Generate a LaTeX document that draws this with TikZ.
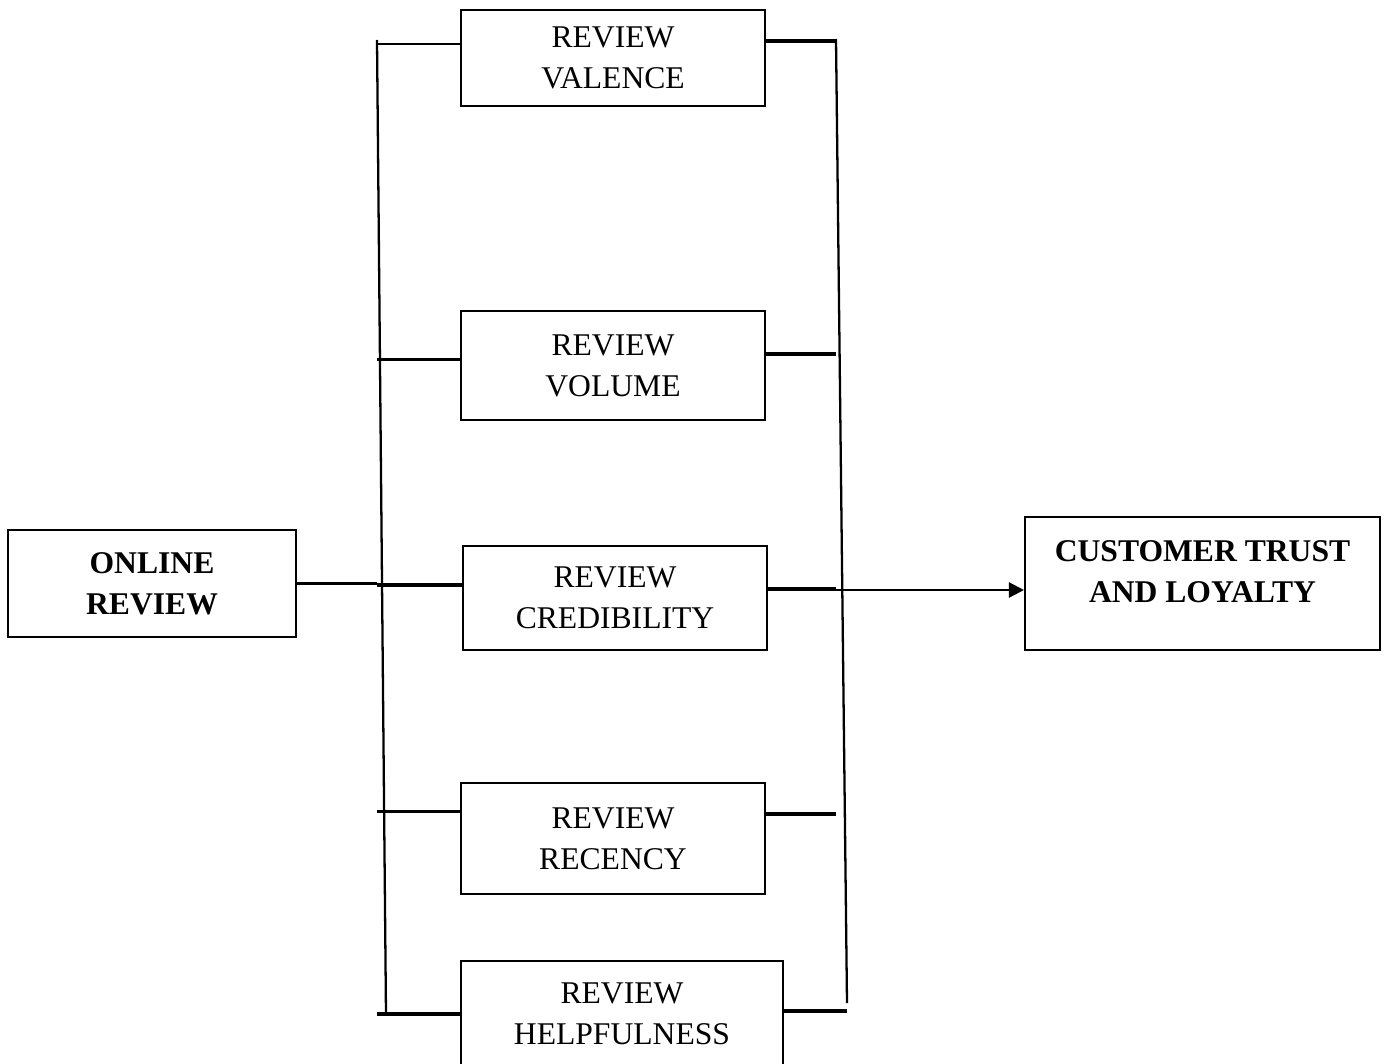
\documentclass[tikz,border=0pt]{standalone}
\usepackage{fontspec}
\setmainfont{Liberation Serif}
\usetikzlibrary{arrows.meta}

\begin{document}
\begin{tikzpicture}[x=0.02cm, y=-0.02cm, >={Triangle[length=0.3cm,width=0.3cm]},
      font=\fontsize{18}{23.3}\selectfont,
      box/.style={draw, line width=1.2pt, align=center, inner sep=0pt},
      revbox/.style={box, minimum width=6.08cm},
      mainbox/.style={box, font=\fontsize{18}{23.3}\selectfont\bfseries},
      link/.style={line width=1.3pt},
      heavylink/.style={line width=1.8pt}]
    \useasboundingbox (0,0) rectangle (1389,1064);
    % boxes
    \node[mainbox, minimum width=5.76cm, minimum height=2.14cm] (online) at (152,583.5) {ONLINE\\REVIEW};
    \node[revbox, minimum height=1.92cm] (valence) at (613,58) {REVIEW\\VALENCE};
    \node[revbox, minimum height=2.18cm] (volume) at (613,365.5) {REVIEW\\VOLUME};
    \node[revbox, minimum height=2.08cm] (credibility) at (615,598) {REVIEW\\CREDIBILITY};
    \node[revbox, minimum height=2.22cm] (recency) at (613,838.5) {REVIEW\\RECENCY};
    \node[revbox, minimum width=6.44cm, minimum height=2.12cm] (helpfulness) at (622,1014) {REVIEW\\HELPFULNESS};
    \node[mainbox, minimum width=7.1cm, minimum height=2.66cm,
      label={[font=\fontsize{18}{23.3}\selectfont\bfseries, align=center, yshift=0.24cm]center:{CUSTOMER TRUST\\AND LOYALTY}}] (trust) at (1202.5,583.5) {};
    % bus lines
    \coordinate (ltop) at (377,40);
    \coordinate (lbot) at (386,1015);
    \coordinate (rtop) at (836,39);
    \coordinate (rbot) at (847,1003);
    \draw[link] (ltop) -- (lbot);
    \draw[link] (rtop) -- (rbot);
    % left side
    \draw[link] (online.east) -- (online.east -| ltop);
    \draw[link] ([yshift=0.28cm]valence.west) -- ([yshift=0.28cm]valence.west -| ltop);
    \draw[link] ([yshift=0.12cm]volume.west) -- ([yshift=0.12cm]volume.west -| ltop);
    \draw[heavylink] ([yshift=0.26cm]credibility.west) -- ([yshift=0.26cm]credibility.west -| ltop);
    \draw[link] ([yshift=0.54cm]recency.west) -- ([yshift=0.54cm]recency.west -| ltop);
    \draw[heavylink] (helpfulness.west) -- (helpfulness.west -| ltop);
    % right side
    \draw[heavylink] ([yshift=0.34cm]valence.east) -- ([yshift=0.34cm]valence.east -| rtop);
    \draw[heavylink] ([yshift=0.23cm]volume.east) -- ([yshift=0.23cm]volume.east -| rtop);
    \draw[heavylink] ([yshift=0.18cm]credibility.east) -- ([yshift=0.18cm]credibility.east -| rtop);
    \draw[heavylink] ([yshift=0.49cm]recency.east) -- ([yshift=0.49cm]recency.east -| rtop);
    \draw[heavylink] ([yshift=0.06cm]helpfulness.east) -- ([yshift=0.06cm]helpfulness.east -| rbot);
    \draw[link, ->] ([yshift=-0.13cm]trust.west -| rtop) -- ([yshift=-0.13cm]trust.west);
\end{tikzpicture}
\end{document}
